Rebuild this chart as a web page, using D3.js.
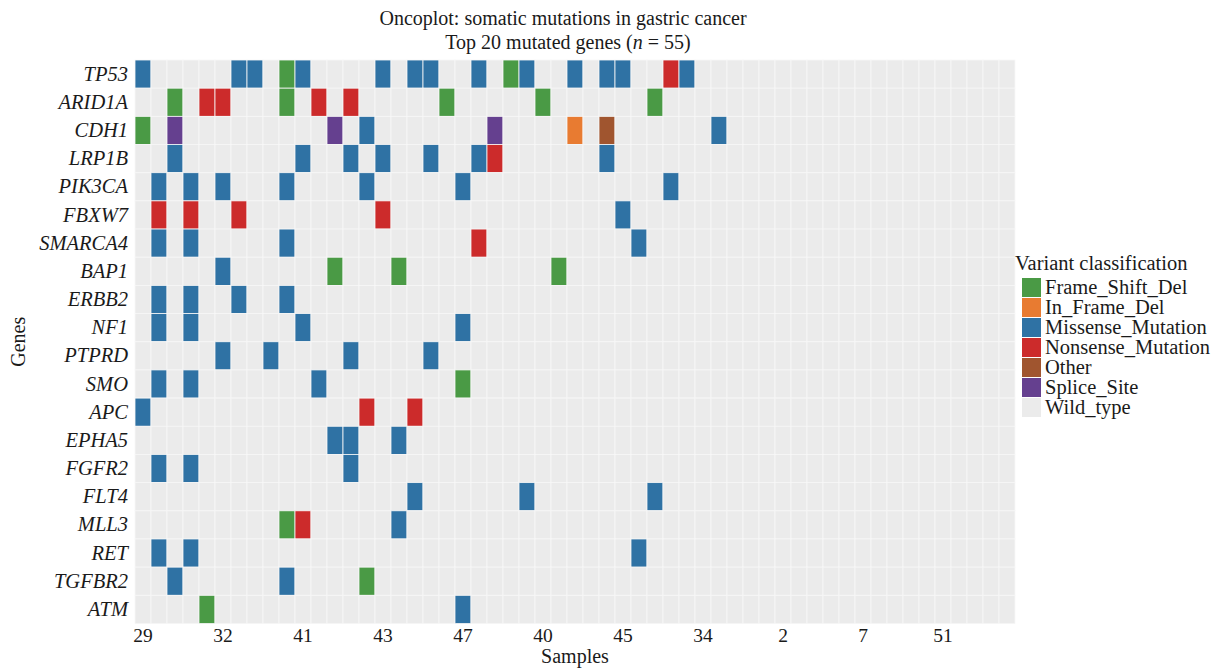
<!DOCTYPE html>
<html lang="en">
  <head>
    <meta charset="utf-8">
    <title>Oncoplot</title>
    <script src="https://d3js.org/d3.v7.min.js"></script>
    <style>
      body { margin: 0; background: #fff; }
      text { font-family: "Liberation Serif", "DejaVu Serif", serif; fill: #1a1a1a; }
    </style>
  </head>
  <body>
    <script type="text/javascript">
      var w = 1227;
      var h = 669;
      var margin = {top: 60, right: 212, bottom: 45.5, left: 135};

      var genes = ["TP53", "ARID1A", "CDH1", "LRP1B", "PIK3CA", "FBXW7", "SMARCA4", "BAP1",
                   "ERBB2", "NF1", "PTPRD", "SMO", "APC", "EPHA5", "FGFR2", "FLT4",
                   "MLL3", "RET", "TGFBR2", "ATM"];
      var nSamples = 55;
      // only every 5th sample id is printed on the axis
      var tickColumns = [0, 5, 10, 15, 20, 25, 30, 35, 40, 45, 50];
      var tickLabels = ["29", "32", "41", "43", "47", "40", "45", "34", "2", "7", "51"];

      var variants = ["Frame_Shift_Del", "In_Frame_Del", "Missense_Mutation",
                      "Nonsense_Mutation", "Other", "Splice_Site", "Wild_type"];
      var variantColors = ["#4a9a45", "#e87b31", "#2f72a4", "#cc2b2b", "#a0552f", "#65408f", "#ebebeb"];

      // mutated cells per gene: "column:code", F/I/M/N/O/S = variant initials
      var mutations = {
        TP53:    ["0M", "6M", "7M", "9F", "10M", "15M", "17M", "18M", "21M", "23F", "24M", "27M", "29M", "30M", "33N", "34M"],
        ARID1A:  ["2F", "4N", "5N", "9F", "11N", "13N", "19F", "25F", "32F"],
        CDH1:    ["0F", "2S", "12S", "14M", "22S", "27I", "29O", "36M"],
        LRP1B:   ["2M", "10M", "13M", "15M", "18M", "21M", "22N", "29M"],
        PIK3CA:  ["1M", "3M", "5M", "9M", "14M", "20M", "33M"],
        FBXW7:   ["1N", "3N", "6N", "15N", "30M"],
        SMARCA4: ["1M", "3M", "9M", "21N", "31M"],
        BAP1:    ["5M", "12F", "16F", "26F"],
        ERBB2:   ["1M", "3M", "6M", "9M"],
        NF1:     ["1M", "3M", "10M", "20M"],
        PTPRD:   ["5M", "8M", "13M", "18M"],
        SMO:     ["1M", "3M", "11M", "20F"],
        APC:     ["0M", "14N", "17N"],
        EPHA5:   ["12M", "13M", "16M"],
        FGFR2:   ["1M", "3M", "13M"],
        FLT4:    ["17M", "24M", "32M"],
        MLL3:    ["9F", "10N", "16M"],
        RET:     ["1M", "3M", "31M"],
        TGFBR2:  ["2M", "9M", "14F"],
        ATM:     ["4F", "20M"]
      };
      var codeToVariant = {F: "Frame_Shift_Del", I: "In_Frame_Del", M: "Missense_Mutation",
                           N: "Nonsense_Mutation", O: "Other", S: "Splice_Site"};

      // build full tile table
      var cells = [];
      genes.forEach(function(g) {
        var row = d3.range(nSamples).map(function(i) { return {gene: g, col: i, type: "Wild_type"}; });
        mutations[g].forEach(function(m) {
          var c = +m.slice(0, -1);
          row[c].type = codeToVariant[m.slice(-1)];
        });
        cells = cells.concat(row);
      });

      var xScale = d3.scaleBand()
          .domain(d3.range(nSamples))
          .range([margin.left, margin.left + 880]);
      var yScale = d3.scaleBand()
          .domain(genes)
          .range([margin.top, h - margin.bottom]);
      var color = d3.scaleOrdinal().domain(variants).range(variantColors);

      var svg = d3.select("body").append("svg")
          .attr("width", w)
          .attr("height", h);

      svg.append("rect")
          .attr("x", margin.left).attr("y", margin.top)
          .attr("width", xScale.range()[1] - margin.left)
          .attr("height", h - margin.bottom - margin.top)
          .attr("fill", "#ebebeb");

      svg.selectAll("rect.tile")
          .data(cells)
          .enter()
          .append("rect")
          .attr("class", "tile")
          .attr("x", d => xScale(d.col))
          .attr("y", d => yScale(d.gene))
          .attr("width", xScale.bandwidth())
          .attr("height", yScale.bandwidth())
          .attr("fill", d => color(d.type))
          .attr("stroke", "#f7f7f7")
          .attr("stroke-width", 0.8);

      // axes
      var xAxis = d3.axisBottom(xScale)
          .tickValues(tickColumns)
          .tickFormat(function(d, i) { return tickLabels[i]; })
          .tickSize(0)
          .tickPadding(5);
      var gx = svg.append("g")
          .attr("transform", "translate(0," + (h - margin.bottom) + ")")
          .call(xAxis);
      gx.select(".domain").remove();
      gx.selectAll("text")
          .style("font-family", "Liberation Serif")
          .style("font-size", "19.5px")
          .attr("fill", "#1a1a1a");

      var yAxis = d3.axisLeft(yScale).tickSize(0).tickPadding(7);
      var gy = svg.append("g")
          .attr("transform", "translate(" + margin.left + ",0)")
          .call(yAxis);
      gy.select(".domain").remove();
      gy.selectAll("text")
          .style("font-family", "Liberation Serif")
          .style("font-style", "italic")
          .style("font-size", "20.5px")
          .attr("fill", "#1a1a1a");

      svg.append("text")
          .attr("x", 575).attr("y", 663)
          .attr("text-anchor", "middle")
          .style("font-size", "20px")
          .text("Samples");
      svg.append("text")
          .attr("transform", "translate(25," + (margin.top + (h - margin.bottom - margin.top) / 2) + ") rotate(-90)")
          .attr("text-anchor", "middle")
          .style("font-size", "20px")
          .text("Genes");

      // title
      svg.append("text")
          .attr("x", 563).attr("y", 25)
          .attr("text-anchor", "middle")
          .style("font-size", "20px")
          .text("Oncoplot: somatic mutations in gastric cancer");
      var t2 = svg.append("text")
          .attr("x", 568).attr("y", 49)
          .attr("text-anchor", "middle")
          .style("font-size", "20px");
      t2.append("tspan").text("Top 20 mutated genes (");
      t2.append("tspan").style("font-style", "italic").text("n");
      t2.append("tspan").text(" = 55)");

      // legend
      var legend = svg.append("g").attr("transform", "translate(1015,270)");
      legend.append("text")
          .attr("x", 0).attr("y", 0)
          .style("font-size", "20.5px")
          .text("Variant classification");
      var items = legend.selectAll("g.item")
          .data(variants)
          .enter()
          .append("g")
          .attr("class", "item")
          .attr("transform", (d, i) => "translate(7," + (8 + i * 20) + ")");
      items.append("rect")
          .attr("width", 19).attr("height", 19)
          .attr("fill", d => color(d));
      items.append("text")
          .attr("x", 23).attr("y", 16)
          .style("font-size", "20.5px")
          .text(d => d);
    </script>
  </body>
</html>
